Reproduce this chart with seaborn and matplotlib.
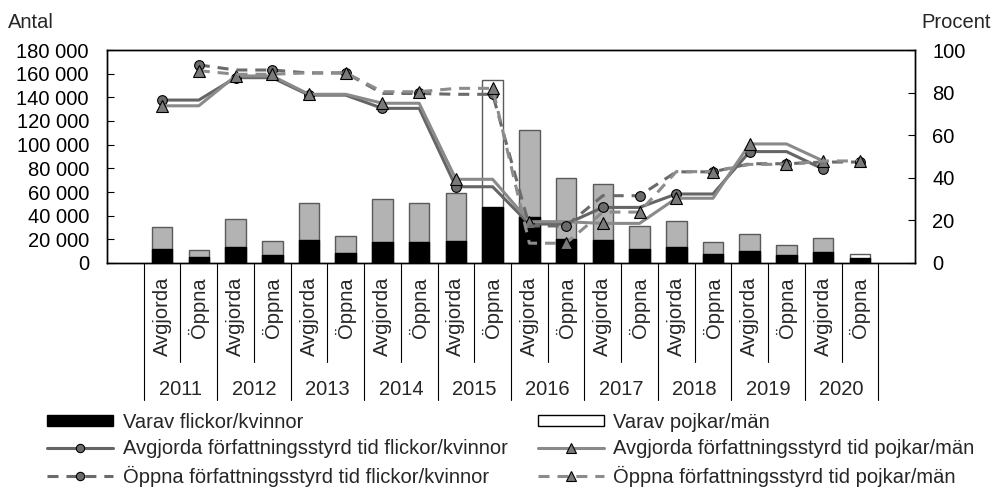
import numpy as np
import pandas as pd
import matplotlib
import matplotlib.pyplot as plt
from matplotlib.patches import Patch
from matplotlib.lines import Line2D
from matplotlib.ticker import FuncFormatter, MultipleLocator
import seaborn as sns

matplotlib.use('Agg')

# --- Data ---
years = ['2011', '2012', '2013', '2014', '2015', '2016', '2017', '2018', '2019', '2020']
kinds = ['Avgjorda', 'Öppna']

# bar values per category (Avgjorda, Öppna for each year)
total_cases = [30400, 11000, 36800, 18300, 50300, 22800, 54000, 50900, 59300, 154700,
               112500, 71800, 66700, 31000, 35700, 17700, 24700, 14900, 20800, 7300]
girls_cases = [11800, 4800, 13500, 6700, 19100, 8400, 17700, 17400, 18800, 47000,
               38700, 20400, 19400, 11700, 13500, 7600, 10400, 6700, 9000, 3900]
white_bars = ['2015 Öppna', '2020 Öppna']

# percent within statutory time, one value per year
avg_girls_pct = [76.5, 87.0, 78.8, 72.6, 35.8, 18.3, 26.1, 32.4, 52.3, 44.1]
avg_boys_pct = [73.8, 87.8, 79.2, 75.0, 39.3, 19.4, 18.6, 30.4, 55.9, 47.9]
open_girls_pct = [93.0, 90.6, 89.2, 79.6, 79.2, 17.4, 31.6, 42.8, 46.6, 47.4]
open_boys_pct = [90.3, 88.6, 89.3, 80.4, 82.0, 9.3, 23.9, 42.9, 46.3, 47.9]

# --- Style ---
sns.set_style('white')
plt.rcParams['font.family'] = ['Liberation Sans', 'DejaVu Sans']
FS = 14.5
DASH = (3.6, 2.6)

categories = [f'{y} {k}' for y in years for k in kinds]
df = pd.DataFrame({'cat': categories, 'total': total_cases, 'girls': girls_cases})
palette = {c: ('white' if c in white_bars else '#b3b3b3') for c in categories}

fig = plt.figure(figsize=(9.92, 4.88), dpi=100)
ax = fig.add_axes([107 / 992, 1 - 263 / 488, 808 / 992, 213 / 488])

sns.barplot(data=df, x='cat', y='total', hue='cat', palette=palette, legend=False,
            width=0.56, edgecolor='#5a5a5a', linewidth=1, errorbar=None,
            saturation=1, ax=ax)
sns.barplot(data=df, x='cat', y='girls', color='black', width=0.56,
            edgecolor='black', linewidth=1, errorbar=None, saturation=1, ax=ax)

ax.set_ylim(0, 180000)
ax.yaxis.set_major_locator(MultipleLocator(20000))
ax.yaxis.set_major_formatter(FuncFormatter(lambda v, p: f'{int(v):,}'.replace(',', ' ')))
ax.tick_params(axis='y', direction='in', length=5, pad=13, labelsize=FS, colors='black')
ax.set_xticks(range(len(categories)))
ax.set_xticklabels(kinds * len(years), rotation=90, fontsize=FS)
ax.tick_params(axis='x', length=0, pad=10)
ax.set_xlabel('')
ax.set_ylabel('')
for s in ax.spines.values():
    s.set_color('black')
    s.set_linewidth(1)

# category separators and year labels below the axis
trans = ax.get_xaxis_transform()
for k in range(len(categories) + 1):
    ybot = -0.643 if k % 2 == 0 else -0.465
    ax.plot([k - 0.5, k - 0.5], [0, ybot], transform=trans, color='black',
            lw=0.8, clip_on=False)
for i, y in enumerate(years):
    ax.text(2 * i + 0.5, -0.592, y, transform=trans, ha='center', va='center', fontsize=FS)

# --- Percent lines on secondary axis ---
ax2 = ax.twinx()
ax2.set_ylim(0, 100)
ax2.yaxis.set_major_locator(MultipleLocator(20))
ax2.tick_params(axis='y', direction='in', length=5, pad=12.5, labelsize=FS, colors='black')
for s in ax2.spines.values():
    s.set_color('black')
    s.set_linewidth(1)

x = np.arange(len(categories))


def expand(vals, first_blank):
    arr = np.repeat(np.array(vals, dtype=float), 2)
    if first_blank:
        arr[0] = np.nan
    else:
        arr[-1] = np.nan
    return arr


series = [
    (avg_girls_pct, False, '#656565', '-', 'o', '#6b6b6b', 7),
    (avg_boys_pct, False, '#8a8a8a', '-', '^', '#7a7a7a', 8),
    (open_girls_pct, True, '#6a6a6a', '--', 'o', '#6b6b6b', 7),
    (open_boys_pct, True, '#8c8c8c', '--', '^', '#7a7a7a', 8),
]
for vals, first_blank, col, ls, mk, mfc, ms in series:
    mark_idx = list(range(1, len(x), 2)) if first_blank else list(range(0, len(x), 2))
    line, = ax2.plot(x, expand(vals, first_blank), color=col, lw=2.2, ls=ls,
                     marker=mk, markevery=mark_idx, ms=ms, mfc=mfc, mec='black', mew=0.8)
    if ls == '--':
        line.set_dashes(DASH)

fig.text(8 / 992, 1 - 22 / 488, 'Antal', ha='left', va='center', fontsize=FS)
fig.text(991 / 992, 1 - 22 / 488, 'Procent', ha='right', va='center', fontsize=FS)

# --- Legend ---
handles = [
    Patch(facecolor='black', edgecolor='black'),
    Line2D([], [], color='#656565', lw=2.2, marker='o', ms=6, mfc='#6b6b6b', mec='black', mew=0.8),
    Line2D([], [], color='#6a6a6a', lw=2.2, ls=(0, DASH), marker='o', ms=6, mfc='#6b6b6b', mec='black', mew=0.8),
    Patch(facecolor='white', edgecolor='black'),
    Line2D([], [], color='#8a8a8a', lw=2.2, marker='^', ms=7, mfc='#7a7a7a', mec='black', mew=0.8),
    Line2D([], [], color='#8c8c8c', lw=2.2, ls=(0, DASH), marker='^', ms=7, mfc='#7a7a7a', mec='black', mew=0.8),
]
labels = [
    'Varav flickor/kvinnor',
    'Avgjorda författningsstyrd tid flickor/kvinnor',
    'Öppna författningsstyrd tid flickor/kvinnor',
    'Varav pojkar/män',
    'Avgjorda författningsstyrd tid pojkar/män',
    'Öppna författningsstyrd tid pojkar/män',
]
fig.legend(handles, labels, ncol=2, loc='upper left',
           bbox_to_anchor=(47 / 992, 1 - 413 / 488), frameon=False,
           handlelength=3.3, handleheight=0.45, handletextpad=0.45,
           columnspacing=1.5, labelspacing=0.36, borderpad=0, borderaxespad=0,
           fontsize=FS)

fig.savefig('out.png', dpi=100)
